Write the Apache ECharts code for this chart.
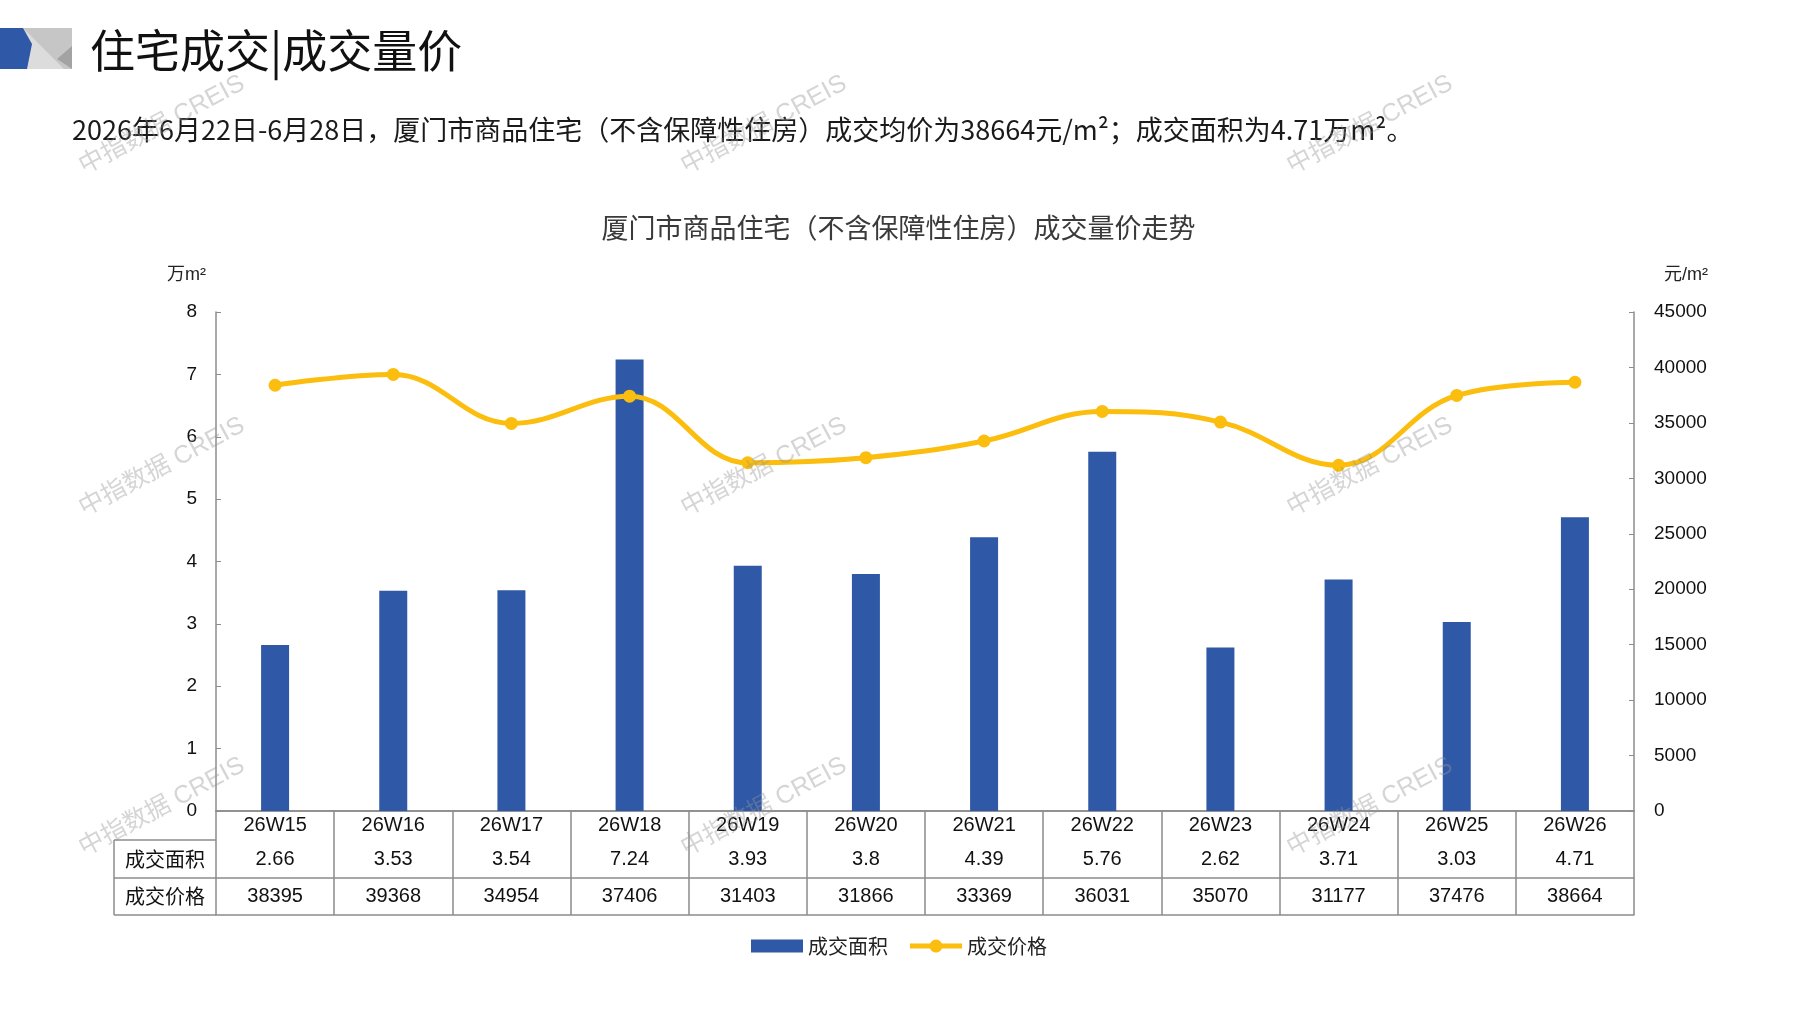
<!DOCTYPE html>
<html>
<head>
    <meta charset="utf-8">
    <title>住宅成交|成交量价</title>
    <script src="https://cdn.jsdelivr.net/npm/echarts@6/dist/echarts.min.js"></script>
    <style>
        html, body {
            margin: 0;
            padding: 0;
            background: #fff;
        }

        #chart1 {
            width: 1797px;
            height: 1010px;
        }
    </style>
</head>
<body>
<div id="chart1"></div>

<script type="text/javascript">
    // 数据
    var weeks = ['26W15', '26W16', '26W17', '26W18', '26W19', '26W20', '26W21', '26W22', '26W23', '26W24', '26W25', '26W26'];
    var areaData = [2.66, 3.53, 3.54, 7.24, 3.93, 3.8, 4.39, 5.76, 2.62, 3.71, 3.03, 4.71];
    var priceData = [38395, 39368, 34954, 37406, 31403, 31866, 33369, 36031, 35070, 31177, 37476, 38664];
    var areaTicks = [0, 1, 2, 3, 4, 5, 6, 7, 8];
    var priceTicks = [0, 5000, 10000, 15000, 20000, 25000, 30000, 35000, 40000, 45000];

    // 版面
    var W = 1797, H = 1010;
    var gl = 216, gr = 1634, gt = 312, gb = 811;
    var row1 = 840, row2 = 878, row3 = 915, tableLeft = 114;
    var lineColor = '#8c8c8c';
    var cjk = '"Noto Sans CJK SC", sans-serif';
    var num = '"Liberation Sans", "Noto Sans CJK SC", sans-serif';
    var narrow = '"Liberation Sans Narrow", "Liberation Sans", sans-serif';
    // 图例中带圆点的粗线
    var lineIcon = 'path://M0,4H20A6.5,6.5,0,0,1,32,4H52V9H32A6.5,6.5,0,0,1,20,9H0Z';

    function watermarks() {
        var xs = [162, 764, 1370], ys = [125, 467, 807], out = [];
        ys.forEach(function (y) {
            xs.forEach(function (x) {
                out.push({
                    type: 'text', x: x, y: y, rotation: 0.49, z: 100, silent: true,
                    style: {
                        text: '中指数据 CREIS', fill: 'rgba(150,150,150,0.4)',
                        font: '25px "Liberation Sans", "Noto Sans CJK SC", sans-serif',
                        textAlign: 'center', textVerticalAlign: 'middle'
                    }
                });
            });
        });
        return out;
    }

    var lineStyle = {stroke: lineColor, lineWidth: 1.5};
    var graphics = [
        // 标题图标
        {type: 'rect', shape: {x: 0, y: 28, width: 72, height: 41}, style: {fill: '#c6c6c6'}},
        {type: 'polygon', shape: {points: [[23, 28], [64, 69], [18, 69]]}, style: {fill: '#dcdcdc'}},
        {type: 'polygon', shape: {points: [[72, 46], [57, 59], [72, 69]]}, style: {fill: '#a3a3a3'}},
        {type: 'polygon', shape: {points: [[0, 28], [23, 28], [32, 44], [27, 69], [0, 69]]}, style: {fill: '#2f58a6'}},
        {
            type: 'text', x: 90, y: 51,
            style: {text: '住宅成交|成交量价', font: '45px ' + cjk, fill: '#111', textVerticalAlign: 'middle'}
        },
        {
            type: 'text', x: 72, y: 130,
            style: {
                text: '2026年6月22日-6月28日，厦门市商品住宅（不含保障性住房）成交均价为38664元/m²；成交面积为4.71万m²。',
                font: '27px ' + cjk, fill: '#1a1a1a', textVerticalAlign: 'middle'
            }
        },
        // 表格左列
        {type: 'line', shape: {x1: tableLeft, y1: row1, x2: gl, y2: row1}, style: lineStyle},
        {type: 'line', shape: {x1: tableLeft, y1: row2, x2: gl, y2: row2}, style: lineStyle},
        {type: 'line', shape: {x1: tableLeft, y1: row3, x2: gl, y2: row3}, style: lineStyle},
        {type: 'line', shape: {x1: tableLeft, y1: row1, x2: tableLeft, y2: row3}, style: lineStyle},
        {
            type: 'text', x: (tableLeft + gl) / 2, y: (row1 + row2) / 2,
            style: {text: '成交面积', font: '20px ' + cjk, fill: '#111', textAlign: 'center', textVerticalAlign: 'middle'}
        },
        {
            type: 'text', x: (tableLeft + gl) / 2, y: (row2 + row3) / 2,
            style: {text: '成交价格', font: '20px ' + cjk, fill: '#111', textAlign: 'center', textVerticalAlign: 'middle'}
        }
    ].concat(watermarks());

    function tableAxis(offset, height, values) {
        return {
            type: 'category',
            data: weeks,
            position: 'bottom',
            offset: offset,
            axisLine: {show: true, lineStyle: {color: lineColor, width: 1.5}},
            axisTick: {show: false},
            axisLabel: {
                show: !!values,
                interval: 0,
                margin: 0,
                lineHeight: height,
                fontSize: 20,
                fontFamily: narrow,
                color: '#111',
                formatter: function (v, i) {
                    return values ? String(values[i]) : '';
                }
            }
        };
    }

    var myChart = echarts.init(document.getElementById('chart1'));
    myChart.setOption({
        animation: false,
        title: {
            text: '厦门市商品住宅（不含保障性住房）成交量价走势',
            left: 'center',
            top: 209,
            textStyle: {fontFamily: cjk, fontSize: 27, fontWeight: 'normal', color: '#3a3a3a'}
        },
        legend: {
            data: [
                {name: '成交面积', icon: 'rect'},
                {name: '成交价格', icon: lineIcon}
            ],
            left: 746,
            top: 931,
            itemWidth: 52,
            itemHeight: 13,
            itemGap: 22,
            textStyle: {fontFamily: cjk, fontSize: 20, color: '#222'}
        },
        grid: {
            left: gl,
            right: W - gr,
            top: gt,
            bottom: H - gb,
            containLabel: false
        },
        xAxis: [
            {
                type: 'category',
                data: weeks,
                position: 'bottom',
                axisLine: {show: true, lineStyle: {color: lineColor, width: 1.5}},
                axisTick: {show: true, length: row3 - gb, lineStyle: {color: lineColor, width: 1.5}},
                axisLabel: {
                    interval: 0, margin: 0, lineHeight: row1 - gb,
                    fontSize: 20, fontFamily: narrow, color: '#111'
                }
            },
            tableAxis(row1 - gb, row2 - row1, areaData),
            tableAxis(row2 - gb, row3 - row2, priceData),
            tableAxis(row3 - gb, 10, null)
        ],
        yAxis: [
            {
                type: 'value',
                min: areaTicks[0],
                max: areaTicks[areaTicks.length - 1],
                interval: areaTicks[1] - areaTicks[0],
                name: '万m²',
                nameLocation: 'end',
                nameGap: 28,
                nameTextStyle: {fontFamily: num, fontSize: 18, color: '#222', align: 'right', padding: [0, 10, 0, 0]},
                axisLine: {show: true, lineStyle: {color: lineColor, width: 1.5}},
                axisTick: {show: true, inside: true, length: 5, lineStyle: {color: lineColor}},
                axisLabel: {margin: 19, fontSize: 19, fontFamily: num, color: '#111'},
                splitLine: {show: false}
            },
            {
                type: 'value',
                position: 'right',
                min: priceTicks[0],
                max: priceTicks[priceTicks.length - 1],
                interval: priceTicks[1] - priceTicks[0],
                name: '元/m²',
                nameLocation: 'end',
                nameGap: 28,
                nameTextStyle: {fontFamily: num, fontSize: 18, color: '#222', align: 'left', padding: [0, 0, 0, 30]},
                axisLine: {show: true, lineStyle: {color: lineColor, width: 1.5}},
                axisTick: {show: true, inside: true, length: 5, lineStyle: {color: lineColor}},
                axisLabel: {
                    margin: 20, fontSize: 19, fontFamily: num, color: '#111',
                    formatter: function (v) {
                        return String(v);
                    }
                },
                splitLine: {show: false}
            }
        ],
        series: [
            {
                name: '成交面积',
                type: 'bar',
                xAxisIndex: 0,
                yAxisIndex: 0,
                barWidth: 28,
                itemStyle: {color: '#2f58a6'},
                data: areaData
            },
            {
                name: '成交价格',
                type: 'line',
                xAxisIndex: 0,
                yAxisIndex: 1,
                smooth: 0.4,
                symbol: 'circle',
                symbolSize: 13,
                itemStyle: {color: '#fbbd0e'},
                lineStyle: {color: '#fbbd0e', width: 5},
                data: priceData,
                z: 3
            }
        ],
        graphic: graphics
    });
</script>
</body>
</html>
